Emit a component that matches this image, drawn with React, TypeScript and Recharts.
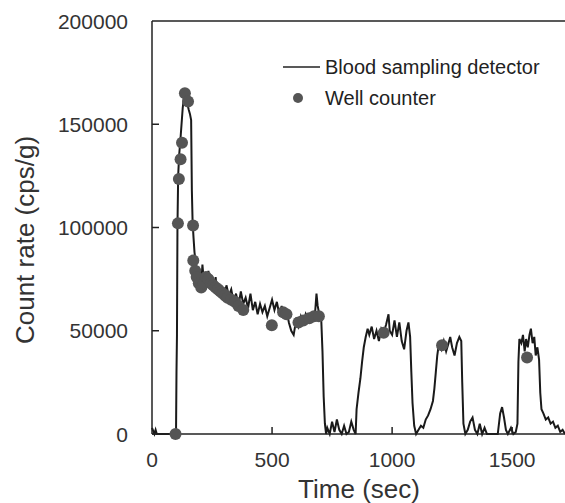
import React from 'react';
import { ComposedChart, Line, Scatter, XAxis, YAxis, ReferenceLine } from 'recharts';

// blood sampling detector trace (sec, cps/g)
const detectorTime = [
  0, 5, 10, 15, 20, 30, 40, 50, 60, 70, 80, 90, 100,
  102, 104, 106, 109, 113, 118, 123, 128, 133, 140, 147, 153, 158, 163, 166, 169, 173, 177, 181, 185,
  190, 195, 200, 205, 210, 215, 220, 225, 230, 235, 240, 245, 250, 255, 260, 265, 270, 275, 280,
  290, 300, 310, 320, 330, 340, 350, 360, 370, 380, 390, 400, 410, 420, 430, 440, 450, 460, 470,
  480, 490, 500, 510, 520, 530, 540, 550, 560, 570, 580, 590, 600, 610, 620, 630, 640, 650, 660,
  670, 680, 685, 690, 695, 700, 705, 710, 715, 720, 725,
  730, 740, 750, 760, 770, 780, 790, 800, 810, 820, 830, 840, 848,
  852, 860, 868, 875, 882, 890, 898, 905, 915, 925, 935, 945, 955, 965, 975, 985, 990, 1000, 1010,
  1020, 1030, 1040, 1050, 1060, 1068, 1075, 1080, 1085, 1092, 1100,
  1110, 1120, 1130, 1140, 1150, 1160, 1170, 1176, 1182, 1188, 1195, 1205, 1215, 1225, 1235, 1242,
  1250, 1260, 1270, 1280, 1288, 1292, 1297, 1305,
  1315, 1325, 1335, 1345, 1355, 1365, 1375, 1385, 1395, 1410, 1425, 1440, 1450, 1458, 1466, 1474,
  1482, 1495, 1505, 1515, 1522, 1526, 1530, 1538, 1545, 1552, 1558, 1565, 1572, 1578, 1585, 1592,
  1598, 1605, 1612, 1617, 1622, 1630, 1640, 1650, 1660, 1670, 1680, 1690, 1700, 1710, 1720,
];
const detectorRate = [
  3000, 1500, 0, 2000, 0, 0, 0, 0, 0, 0, 0, 0, 0,
  30000, 48000, 100000, 125000, 135000, 142000, 150000, 158000, 163000, 165000, 160000, 157000, 155000, 152000, 118000, 103000, 95000, 88000, 84000, 80000,
  78000, 74000, 79000, 72000, 82000, 75000, 78000, 70000, 76000, 79000, 73000, 77000, 72000, 75000, 70000, 76000, 69000, 73000, 68000,
  71000, 66000, 72000, 67000, 70000, 64000, 68000, 62000, 69000, 63000, 66000, 61000, 68000, 60000, 64000, 58000, 63000, 59000, 62000,
  57000, 61000, 65000, 60000, 64000, 58000, 62000, 56000, 60000, 54000, 50000, 48000, 55000, 52000, 57000, 54000, 58000, 55000, 57000,
  56000, 60000, 68000, 62000, 59000, 57000, 55000, 40000, 18000, 5000, 0,
  3000, 0, 6000, 1000, 7000, 2000, 0, 4000, 0, 1000, 6000, 2000, 0,
  12000, 20000, 27000, 35000, 42000, 47000, 51000, 48000, 52000, 46000, 50000, 45000, 51000, 49000, 53000, 58000, 50000, 48000, 55000,
  47000, 54000, 45000, 41000, 50000, 54000, 47000, 30000, 15000, 4000, 0,
  2000, 4000, 3000, 7000, 9000, 12000, 16000, 22000, 30000, 38000, 44000, 41000, 45000, 40000, 44000, 47000,
  42000, 38000, 44000, 47000, 45000, 25000, 5000, 0,
  2000, 6000, 8000, 2000, 0, 5000, 0, 3000, 0, 0, 0, 0, 10000, 13000, 8000, 2000,
  0, 3000, 0, 1000, 5000, 35000, 46000, 44000, 48000, 40000, 46000, 42000, 48000, 51000, 44000, 47000,
  38000, 42000, 36000, 20000, 12000, 10000, 7000, 8000, 5000, 6000, 3000, 4000, 1000, 2000, 0,
];

// well counter samples
const wellTime = [
  98, 108, 112, 119, 125, 137, 150, 171, 172, 180, 186, 195, 205, 215, 225, 235, 245, 255, 265,
  275, 285, 295, 305, 315, 330, 345, 360, 380, 499, 546, 560, 610, 630, 655, 675, 695, 965, 1208, 1562,
];
const wellRate = [
  0, 102000, 123500, 133000, 141000, 165000, 161000, 101000, 84000, 79000, 76000, 73000, 71000, 73000, 76000, 75000, 73000, 72000, 71000,
  70000, 69000, 68000, 67000, 66000, 65000, 64000, 62000, 60000, 52700, 59000, 58000, 54000, 55000, 56000, 57000, 57000, 49000, 43000, 37000,
];

const xTicks = [0, 500, 1000, 1500];
const yTicks = [0, 50000, 100000, 150000, 200000];

const detectorData = detectorTime.map((t, i) => ({ time: t, rate: detectorRate[i] }));
const wellData = wellTime.map((t, i) => ({ time: t, rate: wellRate[i] }));

const FONT = '"Liberation Sans", Arial, sans-serif';

// ticks point into the plot, so draw the little mark together with the label
const YTick = ({ x, y, payload }: any) => (
  <g>
    {payload.value !== 200000 && <line x1={x + 24} y1={y} x2={x + 31} y2={y} stroke="#222" strokeWidth={1.5} />}
    <text x={x} y={y} textAnchor="end" dominantBaseline="central" fontSize={21} fontFamily={FONT} fill="#333">
      {payload.value}
    </text>
  </g>
);

const XTick = ({ x, y, payload }: any) => (
  <g>
    {payload.value !== 0 && <line x1={x} y1={y - 18} x2={x} y2={y - 25} stroke="#222" strokeWidth={1.5} />}
    <text x={x} y={y} dy="0.71em" textAnchor="middle" fontSize={21} fontFamily={FONT} fill="#333">
      {payload.value}
    </text>
  </g>
);

const YTitle = () => (
  <text x={25} y={240} transform="rotate(-90 25 240)" textAnchor="middle" dominantBaseline="central"
    fontSize={26} fontFamily={FONT} fill="#333">
    Count rate (cps/g)
  </text>
);

const XTitle = () => (
  <text x={359} y={489} textAnchor="middle" dominantBaseline="central" fontSize={26} fontFamily={FONT} fill="#333">
    Time (sec)
  </text>
);

// legend drawn on top of the plot, it must not take space from the chart
const LegendBox = () => (
  <svg width={280} height={55} style={{ position: 'absolute', left: 280, top: 57 }}>
    <line x1={3} y1={10} x2={40} y2={10} stroke="#222" strokeWidth={1.5} />
    <text x={45} y={10} dominantBaseline="central" fontSize={20} fontFamily={FONT} fill="#222">
      Blood sampling detector
    </text>
    <circle cx={18} cy={41} r={5} fill="#555" />
    <text x={45} y={41} dominantBaseline="central" fontSize={20} fontFamily={FONT} fill="#222">
      Well counter
    </text>
  </svg>
);

export default function App() {
  return (
    <div style={{ position: 'absolute', left: 0, top: 0, width: 565, height: 503, background: '#fff' }}>
      <ComposedChart width={565} height={503} margin={{ top: 21, right: 0, bottom: 0, left: 0 }}>
        <XAxis
          type="number"
          dataKey="time"
          domain={[0, 1720]}
          ticks={xTicks}
          height={69}
          tickSize={-6}
          tickMargin={24}
          tickLine={false}
          stroke="#222"
          strokeWidth={1.5}
          tick={<XTick />}
          label={<XTitle />}
        />
        <YAxis
          type="number"
          domain={[0, 200000]}
          ticks={yTicks}
          width={152}
          tickSize={-6}
          tickMargin={30}
          tickLine={false}
          stroke="#222"
          strokeWidth={1.5}
          tick={<YTick />}
          label={<YTitle />}
        />
        <ReferenceLine y={200000} stroke="#222" strokeWidth={1.5} />
        <Line
          data={detectorData}
          dataKey="rate"
          type="linear"
          stroke="#1a1a1a"
          strokeWidth={2}
          dot={false}
          isAnimationActive={false}
        />
        <Scatter
          data={wellData}
          dataKey="rate"
          fill="#555"
          shape={(p: any) => <circle cx={p.cx} cy={p.cy} r={6} fill="#555" />}
          isAnimationActive={false}
        />
      </ComposedChart>
      <LegendBox />
    </div>
  );
}
